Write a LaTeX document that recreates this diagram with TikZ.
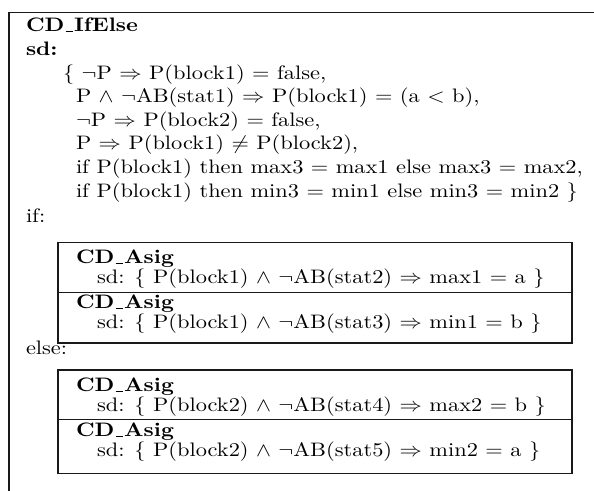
\documentclass[tikz,border=0pt]{standalone}
% text is set at 10pt and stretched to the drawing's scale
\newcommand{\wtxt}[1]{\scalebox{2.24}[1.95]{#1}}
% narrow underscore bar, as in the classic OT1 \_
\newcommand{\ubar}{\kern.06em\rule[-0.3pt]{.32em}{0.5pt}\kern.06em}
\begin{document}
\begin{tikzpicture}[x=1pt,y=-1pt,
  txt/.style={anchor=base west,inner sep=0pt,outer sep=0pt,font=\fontsize{10}{12}\selectfont},
  frame/.style={line width=1.8pt,draw=black!90},
  divider/.style={line width=1pt,draw=black!90}]
\useasboundingbox (0,0) rectangle (594,490);

% outer frame (open at the right and bottom)
\draw[frame] (594,12.5) -- (9,12.5) -- (9,491);

% header of the if/else block
\node[txt] (title) at (26,31) {\wtxt{\textbf{CD\ubar IfElse}}};
\node[txt] (sdlbl) at (26,55) {\wtxt{\textbf{sd:}}};
\node[txt] (c1) at (63,79)    {\wtxt{\{ $\neg$P $\Rightarrow$ P(block1) = false,}};
\node[txt] (c2) at (76,102.5) {\wtxt{P $\wedge$ $\neg$AB(stat1) $\Rightarrow$ P(block1) = (a $<$ b),}};
\node[txt] (c3) at (76,126)   {\wtxt{$\neg$P $\Rightarrow$ P(block2) = false,}};
\node[txt] (c4) at (76,149.5) {\wtxt{P $\Rightarrow$ P(block1) $\neq$ P(block2),}};
\node[txt] (c5) at (76,173.5) {\wtxt{if P(block1) then max3 = max1 else max3 = max2,}};
\node[txt] (c6) at (76,197.5) {\wtxt{if P(block1) then min3 = min1 else min3 = min2 \}}};

% if branch
\node[txt] (iflbl) at (26,222) {\wtxt{if:}};
\draw[frame] (58,242.5) rectangle (572,343);
\draw[divider] (58,292.5) -- (572,292.5);
\node[txt] (a1) at (76,263) {\wtxt{\textbf{CD\ubar Asig}}};
\node[txt] (s1) at (97,283) {\wtxt{sd: \{ P(block1) $\wedge$ $\neg$AB(stat2) $\Rightarrow$ max1 = a \}}};
\node[txt] (a2) at (76,308) {\wtxt{\textbf{CD\ubar Asig}}};
\node[txt] (s2) at (97,328) {\wtxt{sd: \{ P(block1) $\wedge$ $\neg$AB(stat3) $\Rightarrow$ min1 = b \}}};

% else branch
\node[txt] (elselbl) at (26,354) {\wtxt{else:}};
\draw[frame] (58,370) rectangle (572,473.5);
\draw[divider] (58,419.5) -- (572,419.5);
\node[txt] (a3) at (76,391) {\wtxt{\textbf{CD\ubar Asig}}};
\node[txt] (s3) at (97,411) {\wtxt{sd: \{ P(block2) $\wedge$ $\neg$AB(stat4) $\Rightarrow$ max2 = b \}}};
\node[txt] (a4) at (76,436) {\wtxt{\textbf{CD\ubar Asig}}};
\node[txt] (s4) at (97,456) {\wtxt{sd: \{ P(block2) $\wedge$ $\neg$AB(stat5) $\Rightarrow$ min2 = a \}}};
\end{tikzpicture}
\end{document}
